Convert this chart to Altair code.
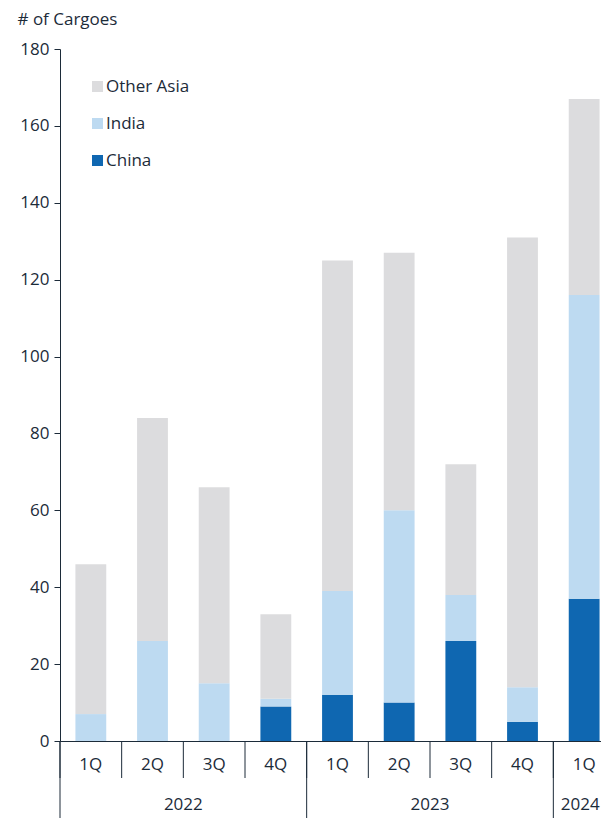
import altair as alt
import pandas as pd

quarters = ["1Q", "2Q", "3Q", "4Q", "1Q", "2Q", "3Q", "4Q", "1Q"]
years = ["2022", "2022", "2022", "2022", "2023", "2023", "2023", "2023", "2024"]
china = [0, 0, 0, 9, 12, 10, 26, 5, 37]
india = [7, 26, 15, 2, 27, 50, 12, 9, 79]
other_asia = [39, 58, 51, 22, 86, 67, 34, 117, 51]
series = ["Other Asia", "India", "China"]
colors = ["#DCDCDE", "#BDDAF1", "#0F67B1"]
y_ticks = [0, 20, 40, 60, 80, 100, 120, 140, 160, 180]
year_labels = ["2022", "2023", "2024"]

cats = [f"{y} {q}" for y, q in zip(years, quarters)]
rows = []
for i, c in enumerate(cats):
    for s, vals, o in (("China", china, 0), ("India", india, 1), ("Other Asia", other_asia, 2)):
        rows.append({"cat": c, "series": s, "value": vals[i], "ord": o})
df = pd.DataFrame(rows)

# year group anchors
year_start = [cats[years.index(y)] for y in year_labels]
year_rows = []
for y in year_labels:
    members = [c for c, yy in zip(cats, years) if yy == y]
    n = len(members)
    year_rows.append({"year": y, "cat": members[n // 2], "mode": "edge" if n % 2 == 0 else "mid"})
ydf = pd.DataFrame(year_rows)
sep_df = pd.DataFrame({"cat": cats})
ystart_df = pd.DataFrame({"cat": year_start})

INK = "#1c2b39"
FONT = "Open Sans"
FS = 17
H = 692
W = 541

xscale = alt.Scale(domain=cats, range=[0, 555], paddingInner=0, paddingOuter=0)
xaxis = alt.Axis(
    title=None,
    labelExpr="split(datum.label, ' ')[1]",
    ticks=False,
    labelPadding=15,
    labelFontSize=FS,
    labelColor=INK,
    labelFont=FONT,
    domainColor=INK,
    labelAngle=0,
)


def xenc(band=0.5):
    return alt.X("cat:N", scale=xscale, axis=xaxis, bandPosition=band)


bars = alt.Chart(df).mark_bar(width=alt.RelativeBandSize(0.5)).encode(
    x=xenc(),
    y=alt.Y(
        "value:Q",
        stack="zero",
        scale=alt.Scale(domain=[0, 180]),
        axis=alt.Axis(
            values=y_ticks,
            grid=False,
            title="# of Cargoes",
            titleAngle=0,
            titleAlign="left",
            titleBaseline="alphabetic",
            titleX=-43,
            titleY=-25,
            titleFontSize=FS,
            titleFontWeight="normal",
            titleColor=INK,
            titleFont=FONT,
            labelFontSize=FS,
            labelColor=INK,
            labelFont=FONT,
            labelPadding=5,
            tickSize=6,
            tickColor=INK,
            domainColor=INK,
        ),
    ),
    color=alt.Color(
        "series:N",
        scale=alt.Scale(domain=series, range=colors),
        legend=alt.Legend(
            title=None,
            orient="none",
            legendX=29,
            legendY=29,
            symbolType="square",
            symbolSize=121,
            symbolStrokeWidth=0,
            labelFontSize=FS,
            labelColor=INK,
            labelFont=FONT,
            labelOffset=0,
            rowPadding=19,
            padding=0,
        ),
    ),
    order=alt.Order("ord:Q", sort="ascending"),
)

qsep = alt.Chart(sep_df).mark_rule(color=INK, strokeWidth=1).encode(
    x=xenc(0), y=alt.value(H), y2=alt.value(H + 37)
)
ysep = alt.Chart(ystart_df).mark_rule(color=INK, strokeWidth=1).encode(
    x=xenc(0), y=alt.value(H), y2=alt.value(H + 77)
)
ytext_edge = alt.Chart(ydf).transform_filter(alt.datum.mode == "edge").mark_text(
    fontSize=FS, color=INK, font=FONT, baseline="middle", align="center"
).encode(x=xenc(0), y=alt.value(H + 63.5), text="year:N")
ytext_mid = alt.Chart(ydf).transform_filter(alt.datum.mode == "mid").mark_text(
    fontSize=FS, color=INK, font=FONT, baseline="middle", align="center", dx=-4
).encode(x=xenc(0.5), y=alt.value(H + 63.5), text="year:N")

chart = alt.layer(bars, qsep, ysep, ytext_edge, ytext_mid).properties(
    width=W,
    height=H,
    autosize=alt.AutoSizeParams(type="none"),
    padding={"left": 60, "top": 49, "right": 0, "bottom": 77},
).configure_view(stroke=None)

chart.save("out.html", embed_options={"renderer": "svg", "actions": False})
